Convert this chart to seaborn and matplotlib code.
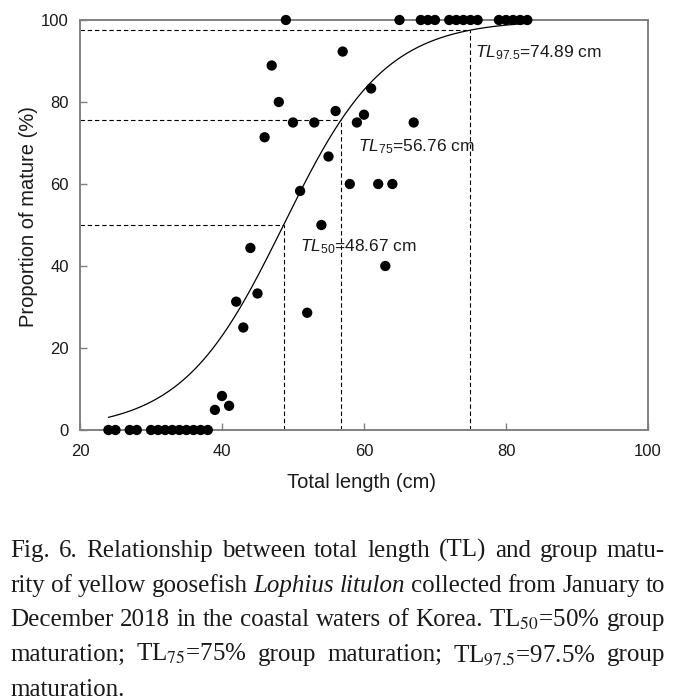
import numpy as np
import pandas as pd
import matplotlib
matplotlib.use('Agg')
import matplotlib.pyplot as plt
import seaborn as sns

# values
length_cm = [24, 25, 27, 28, 30, 31, 32, 33, 34, 35, 36, 37, 38,
             39, 40, 41, 42, 43, 44, 45, 46, 47, 48, 49, 50, 51, 52, 53,
             54, 55, 56, 57, 58, 59, 60, 61, 62, 63, 64, 65, 67,
             68, 69, 70, 72, 73, 74, 75, 76, 79, 80, 81, 82, 83]
mature_pct = [0, 0, 0, 0, 0, 0, 0, 0, 0, 0, 0, 0, 0,
              4.9, 8.3, 5.9, 31.3, 25.0, 44.4, 33.3, 71.4, 88.9, 80.0, 100, 75.0, 58.3, 28.6, 75.0,
              50.0, 66.7, 77.8, 92.3, 60.0, 75.0, 76.9, 83.3, 60.0, 40.0, 60.0, 100, 75.0,
              100, 100, 100, 100, 100, 100, 100, 100, 100, 100, 100, 100, 100]

# fitted maturity lengths
tl_names = ['50', '75', '97.5']
tl_values = [48.67, 56.76, 74.89]
curve_range = [24, 83]

x_ticks = [20, 40, 60, 80, 100]
y_ticks = [0, 20, 40, 60, 80, 100]

df = pd.DataFrame({'length': length_cm, 'mature': mature_pct})

# logistic curve through TL50 and TL97.5
slope = np.log(39) / (tl_values[2] - tl_values[0])
curve_x = np.linspace(curve_range[0], curve_range[1], 300)
curve = pd.DataFrame({'length': curve_x,
                      'mature': 100 / (1 + np.exp(-slope * (curve_x - tl_values[0])))})

sns.set_style('ticks')
plt.rcParams['font.family'] = ['Liberation Sans', 'DejaVu Sans']
plt.rcParams['mathtext.fontset'] = 'custom'
plt.rcParams['mathtext.rm'] = 'Liberation Sans'
plt.rcParams['mathtext.it'] = 'Liberation Sans:italic'

fig = plt.figure(figsize=(6.74, 7.0), dpi=100)
ax = fig.add_axes([80 / 674, 1 - 430 / 700, 568 / 674, 410 / 700])

# dashed guide lines
for tl in tl_values:
    p = 100 / (1 + np.exp(-slope * (tl - tl_values[0])))
    ax.plot([20, tl], [p, p], color='black', lw=0.8, ls=(0, (4, 2.5)), zorder=2)
    ax.plot([tl, tl], [0, p], color='black', lw=0.8, ls=(0, (4, 2.5)), zorder=2)

sns.lineplot(data=curve, x='length', y='mature', color='black', lw=0.9, ax=ax, zorder=3)
sns.scatterplot(data=df, x='length', y='mature', color='black', s=55, edgecolor='none',
                ax=ax, zorder=5, clip_on=False)

ax.set_xlim(20, 100)
ax.set_ylim(0, 100)
ax.set_xticks(x_ticks)
ax.set_yticks(y_ticks)
ax.tick_params(direction='in', length=5, width=1, color='#808080', labelsize=12,
               labelcolor='#1a1a1a')
ax.tick_params(axis='x', pad=10)
ax.tick_params(axis='y', pad=8)
for s in ax.spines.values():
    s.set_color('#808080')
    s.set_linewidth(1.4)
    s.set_zorder(4)

ax.set_xlabel('Total length (cm)', fontsize=14.5, color='#1a1a1a')
ax.set_ylabel('Proportion of mature (%)', fontsize=14.5, color='#1a1a1a')
ax.xaxis.set_label_coords(0.495, -0.104)
ax.yaxis.set_label_coords(-0.074, 0.52)

# annotation labels
label_pos = [(51.0, 44.7), (59.2, 69.1), (75.6, 92.0)]
for name, val, (lx, ly) in zip(tl_names, tl_values, label_pos):
    ax.text(lx, ly, r'$\mathit{TL}_{\mathrm{%s}}$=%.2f cm' % (name, val),
            fontsize=12.5, color='#1a1a1a', va='center', ha='left')

# justified caption
caption_lines = [
    ['Fig.', '6.', 'Relationship', 'between', 'total', 'length', '(TL)', 'and', 'group', 'matu-'],
    ['rity', 'of', 'yellow', 'goosefish', 'Lophius', 'litulon', 'collected', 'from', 'January', 'to'],
    ['December', '2018', 'in', 'the', 'coastal', 'waters', 'of', 'Korea.', r'TL$_{50}$=50%', 'group'],
    ['maturation;', r'TL$_{75}$=75%', 'group', 'maturation;', r'TL$_{97.5}$=97.5%', 'group'],
    ['maturation.'],
]
italic_words = {'Lophius', 'litulon'}
left_px, right_px = 10, 665
first_baseline, line_step = 557, 34.7

renderer = fig.canvas.get_renderer()
for i, words in enumerate(caption_lines):
    yb = 1 - (first_baseline + i * line_step) / 700
    texts = []
    for w in words:
        t = fig.text(0, yb, w, fontsize=18, va='baseline', ha='left', color='#1a1a1a',
                     family=['Liberation Serif'], math_fontfamily='stix',
                     style='italic' if w in italic_words else 'normal')
        texts.append(t)
    widths = [t.get_window_extent(renderer).width for t in texts]
    if i < len(caption_lines) - 1:
        gap = max((right_px - left_px - sum(widths)) / (len(words) - 1), 3)
    else:
        gap = 6
    x = left_px
    for t, wd in zip(texts, widths):
        t.set_x(x / 674)
        x += wd + gap

fig.savefig('out.png', dpi=100)
